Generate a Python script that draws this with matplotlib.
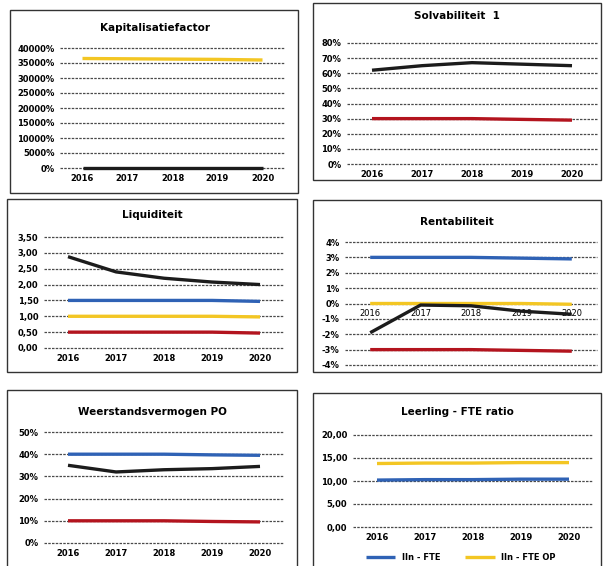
import matplotlib.pyplot as plt
from matplotlib.patches import Rectangle
from matplotlib.ticker import FuncFormatter

years = ["2016", "2017", "2018", "2019", "2020"]

# Kapitalisatiefactor (%)
kap_black = [0, 0, 0, 0, 0]
kap_yellow = [36500, 36400, 36300, 36200, 36000]

# Solvabiliteit 1 (%)
solv_black = [62, 65, 67, 66, 65]
solv_red = [30, 30, 30, 29.5, 29]

# Liquiditeit
liq_black = [2.88, 2.40, 2.20, 2.08, 2.00]
liq_blue = [1.50, 1.50, 1.50, 1.50, 1.47]
liq_yellow = [1.00, 1.00, 1.00, 1.00, 0.98]
liq_red = [0.50, 0.50, 0.50, 0.50, 0.47]

# Rentabiliteit (%)
rent_black = [-1.9, -0.1, -0.15, -0.5, -0.7]
rent_blue = [3.0, 3.0, 3.0, 2.95, 2.9]
rent_yellow = [0.0, 0.0, 0.0, 0.0, -0.05]
rent_red = [-3.0, -3.0, -3.0, -3.05, -3.1]

# Weerstandsvermogen PO (%)
wv_black = [35, 32, 33, 33.5, 34.5]
wv_blue = [40, 40, 40, 39.7, 39.5]
wv_red = [10, 10, 10, 9.7, 9.5]

# Leerling - FTE ratio
fte_blue = [10.2, 10.3, 10.3, 10.4, 10.4]
fte_yellow = [13.8, 13.9, 13.9, 14.0, 14.0]

BLUE = "#2f62b5"
YELLOW = "#f3c623"
RED = "#b3141e"
BLACK = "#1c1c1c"

W, H = 604, 566
fig = plt.figure(figsize=(W / 100, H / 100), dpi=100)
fig.patch.set_facecolor("white")


def box(x0, y0, x1, y1):
    fig.patches.append(Rectangle((x0 / W, 1 - y1 / H), (x1 - x0) / W, (y1 - y0) / H,
                                 transform=fig.transFigure, fill=False,
                                 edgecolor="#333333", linewidth=1.0))


def make_ax(x0, y0, x1, y1, ymin, ymax, step, fmt, title, ty, tx):
    ax = fig.add_axes([x0 / W, 1 - y1 / H, (x1 - x0) / W, (y1 - y0) / H])
    ax.set_xlim(-0.5, 4.5)
    ax.set_ylim(ymin, ymax)
    ticks = []
    v = ymin
    while v <= ymax + 1e-9:
        ticks.append(v)
        v += step
    ax.set_yticks(ticks)
    ax.yaxis.set_major_formatter(FuncFormatter(fmt))
    ax.set_xticks(range(5))
    ax.set_xticklabels(years)
    for s in ax.spines.values():
        s.set_visible(False)
    ax.grid(axis="y", color="#4a4a4a", linestyle=(0, (2, 1)), linewidth=0.9)
    for g in ax.get_ygridlines():
        g.set_clip_on(False)
    ax.set_axisbelow(True)
    ax.tick_params(length=0, labelsize=6, pad=4)
    for lab in ax.get_xticklabels() + ax.get_yticklabels():
        lab.set_fontweight("bold")
    ax.patch.set_alpha(0)
    fig.text(tx / W, 1 - ty / H, title, ha="center", va="center",
             fontsize=7.5, fontweight="bold")
    return ax


def pct(v, pos):
    return f"{v:.0f}%"


def comma(v, pos):
    return f"{v:.2f}".replace(".", ",")


x = range(5)
lw = 2.4
kw = dict(lw=lw, clip_on=False, solid_capstyle="butt")

# Panel 1
box(10, 10, 298, 193)
ax = make_ax(60, 48, 285, 168, 0, 40000, 5000, pct, "Kapitalisatiefactor", 28, 155)
ax.plot(x, kap_yellow, color=YELLOW, **kw)
ax.plot(x, kap_black, color=BLACK, **kw)

# Panel 2
box(313, 3, 601, 180)
ax = make_ax(347, 43, 597, 164, 0, 80, 10, pct, "Solvabiliteit  1", 16, 457)
ax.plot(x, solv_red, color=RED, **kw)
ax.plot(x, solv_black, color=BLACK, **kw)

# Panel 3
box(7, 199, 297, 372)
ax = make_ax(44, 237, 284, 348, 0, 3.5, 0.5, comma, "Liquiditeit", 215, 152)
ax.plot(x, liq_blue, color=BLUE, **kw)
ax.plot(x, liq_yellow, color=YELLOW, **kw)
ax.plot(x, liq_red, color=RED, **kw)
ax.plot(x, liq_black, color=BLACK, **kw)

# Panel 4
box(313, 200, 601, 372)
ax = make_ax(345, 242, 597, 365, -4, 4, 1, pct, "Rentabiliteit", 222, 457)
ax.spines["bottom"].set_position(("data", 0))
ax.plot(x, rent_blue, color=BLUE, **kw)
ax.plot(x, rent_yellow, color=YELLOW, **kw)
ax.plot(x, rent_red, color=RED, **kw)
ax.plot(x, rent_black, color=BLACK, **kw)

# Panel 5
box(7, 390, 297, 570)
ax = make_ax(44, 432, 284, 543, 0, 50, 10, pct, "Weerstandsvermogen PO", 412, 152)
ax.plot(x, wv_blue, color=BLUE, **kw)
ax.plot(x, wv_red, color=RED, **kw)
ax.plot(x, wv_black, color=BLACK, **kw)

# Panel 6
box(313, 393, 601, 570)
ax = make_ax(353, 435, 593, 527, 0, 20, 5, comma, "Leerling - FTE ratio", 412, 457)
ax.plot(x, fte_blue, color=BLUE, label="lln - FTE", **kw)
ax.plot(x, fte_yellow, color=YELLOW, label="lln - FTE OP", **kw)
leg = ax.legend(loc="upper center", bbox_to_anchor=(0.45, -0.2), ncol=2, frameon=False,
                fontsize=6, handlelength=3.5, columnspacing=3)
for t in leg.get_texts():
    t.set_fontweight("bold")

fig.savefig("out.png", dpi=100)
